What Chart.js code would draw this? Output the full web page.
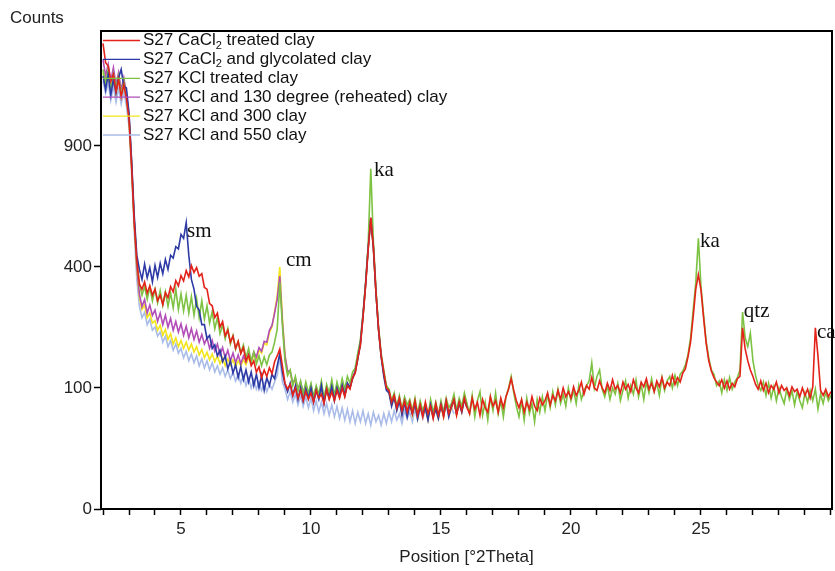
<!DOCTYPE html>
<html><head><meta charset="utf-8">
<script src="https://cdn.jsdelivr.net/npm/chart.js@4.4.0/dist/chart.umd.min.js"></script>
<style>html,body{margin:0;padding:0;background:#fff;}canvas{display:block;}</style>
</head><body>
<canvas id="c" width="835" height="571"></canvas>
<script>
// ---- data (counts), sampled every 0.1 °2Theta starting at 2.0 ----
const START = 2.0, STEP = 0.1;
const seriesLabels = [
  'S27 CaCl₂ treated clay',
  'S27 CaCl₂ and glycolated clay',
  'S27 KCl treated clay',
  'S27 KCl and 130 degree (reheated) clay',
  'S27 KCl and 300 clay',
  'S27 KCl and 550 clay'
];
const caTreated = [
1480,1360,1340,1250,1290,1190,1260,1160,1230,1150,
1040,800,560,420,345,330,352,318,340,312,
330,296,312,285,320,305,338,322,356,340,
372,355,388,368,405,382,398,370,378,335,
330,288,282,250,262,226,240,205,218,190,
204,176,192,165,178,150,162,140,150,128,
138,118,132,120,136,125,148,160,175,140,
108,98,106,88,100,84,96,80,94,82,
92,78,96,84,90,76,98,82,94,80,
96,84,100,86,104,98,118,126,156,182,
250,340,460,580,470,320,220,160,128,100,
96,78,88,70,84,66,80,64,78,62,
80,60,74,58,78,62,72,56,76,60,
74,58,80,62,72,82,60,78,66,84,
70,62,84,68,78,60,82,70,64,86,
72,80,64,84,70,86,98,116,96,80,
70,82,64,78,68,86,72,66,84,74,
80,92,74,88,80,96,82,100,86,94,
84,102,88,96,110,90,104,98,118,100,
96,112,100,92,108,96,114,98,104,92,
110,98,106,94,114,100,92,110,102,116,
98,108,94,112,102,118,100,110,104,122,
106,118,110,126,134,158,190,252,330,375,
328,250,188,150,130,118,110,104,114,100,
112,98,108,102,116,120,224,175,150,132,
120,106,98,112,96,108,92,104,98,110,
92,104,96,100,88,102,94,98,86,100,
88,98,84,102,224,160,96,88,98,86,
94];
const caGlycolated = [
1280,1200,1290,1170,1260,1180,1270,1320,1220,1210,
1070,830,590,440,392,360,410,365,398,352,
405,366,412,378,425,392,440,430,470,462,
515,500,560,440,360,330,280,270,232,232,
198,206,176,184,160,172,148,160,134,150,
126,142,118,138,114,132,110,128,104,124,
100,122,96,118,104,124,116,140,165,128,
106,94,108,88,104,82,100,80,98,84,
100,78,96,82,104,76,98,84,102,80,
100,86,104,88,108,100,116,128,154,186,
255,345,465,575,465,318,218,158,120,96,
92,72,86,66,80,60,78,58,74,62,
76,56,72,60,70,54,74,58,68,56,
74,60,78,58,72,80,62,76,64,82,
70];
const kclTreated = [
1320,1230,1320,1200,1290,1210,1280,1170,1250,1160,
1050,810,570,420,345,312,338,300,336,296,
330,290,326,284,322,280,318,276,330,272,
316,268,312,262,308,256,302,250,296,246,
282,236,266,222,250,210,232,198,222,186,
206,174,192,166,184,156,176,148,168,144,
160,140,158,142,162,168,190,220,350,230,
150,122,132,104,120,96,112,90,110,92,
108,86,104,90,112,84,106,92,114,88,
110,94,116,98,120,108,128,136,166,196,
260,350,480,790,490,330,225,165,132,104,
98,80,92,72,88,68,86,74,82,66,
84,62,80,66,76,58,82,64,78,60,
80,64,84,70,76,90,66,84,72,92,
76,62,88,58,80,94,60,78,54,86,
66,92,62,80,58,86,100,120,92,72,
58,80,54,84,62,76,52,82,64,86,
66,90,70,94,74,98,76,90,72,100,
80,96,76,104,82,96,104,112,146,100,
120,132,98,86,104,82,100,90,108,80,
96,112,84,104,90,114,86,106,82,110,
92,116,94,108,88,118,96,112,120,100,
122,104,124,130,142,162,200,270,350,500,
340,258,192,156,132,124,104,112,92,114,
96,118,98,110,118,132,265,200,180,211,
150,122,104,96,110,88,108,84,102,80,
100,86,76,98,82,96,74,94,80,70,
92,78,96,80,98,68,90,76,94,80,
88];
const kcl130 = [
1380,1280,1350,1250,1330,1230,1300,1200,1270,1180,
1060,820,570,400,315,280,300,262,284,256,
270,240,262,232,256,226,248,218,240,214,
234,206,228,200,222,196,216,190,208,186,
200,176,194,170,186,162,178,156,172,150,
166,146,162,144,160,148,164,150,168,158,
178,170,192,190,218,230,262,300,370,240,
160,130,130,108,116,98,110,92,106,88,
104,84,100,88,102,82,98,86,104,84,
102,88,106,90,108,102,118,130,156,190,
255,345,468,578,468,320,220,160,126,102,
94,76,88,70,84,64,82,66,78,62,
78,58,76,62,72,56,76,60,70,58,
76,60,80,64,70,82,62,78,66,84,
72];
const kcl300 = [
1300,1220,1290,1190,1270,1180,1260,1170,1240,1160,
1040,800,560,390,305,272,285,250,262,236,
242,218,230,206,220,196,210,186,200,180,
194,176,190,172,186,168,180,162,174,156,
168,152,164,148,160,144,156,140,154,142,
152,138,150,140,152,142,156,146,162,154,
172,166,188,184,212,226,266,310,400,250,
162,128,128,106,114,96,108,90,104,86,
102,82,98,86,100,80,96,84,102,82,
100,86,104,88,106,100,116,128,154,188,
252,342,462,572,462,316,216,158,124,100,
92,74,86,68,82,62,80,64,76,60,
76,56,74,60,70,54,74,58,68,56,
74,58,78,62,68,80,60,76,64,82,
70];
const kcl550 = [
1250,1180,1240,1140,1220,1130,1210,1120,1190,1110,
1000,770,530,360,280,250,264,232,246,218,
226,204,214,190,204,180,194,172,186,166,
176,156,170,150,164,146,160,140,154,136,
150,132,146,128,140,124,136,120,132,116,
128,112,124,108,122,104,118,100,114,98,
110,96,108,94,106,98,110,122,160,110,
98,82,94,78,90,74,88,72,86,70,
84,66,80,64,78,62,76,60,74,58,
72,56,70,54,68,52,66,50,64,52,
66,50,62,48,64,52,60,48,62,50,
64,52,66,54,62,50,66,56,64,52,
68,54,70,56,66,58,72,56,70,60,
72,58,74,60,70,62];
const seriesValues = [caTreated, caGlycolated, kclTreated, kcl130, kcl300, kcl550];
const seriesColors = ['#e3231a', '#2d3aa6', '#7dc243', '#b24db8', '#f2e51c', '#a9bce9'];

const xTickLabels = ['5', '10', '15', '20', '25'];
const yTickValues = [0, 100, 400, 900];

const peakLabels = ['sm', 'cm', 'ka', 'ka', 'qtz', 'ca'];
const peakPos = [5.23, 9.04, 12.42, 24.96, 26.65, 29.46];
const peakCounts = [505, 403, 757, 469, 252, 200];

// ---- square-root intensity scale ----
class SqrtScale extends Chart.LinearScale {
  getPixelForValue(value) {
    const a = Math.sqrt(Math.max(this.min, 0)), b = Math.sqrt(this.max);
    return this.getPixelForDecimal((Math.sqrt(Math.max(value, 0)) - a) / (b - a));
  }
  getValueForPixel(pixel) {
    const a = Math.sqrt(Math.max(this.min, 0)), b = Math.sqrt(this.max);
    const s = a + this.getDecimalForPixel(pixel) * (b - a);
    return s * s;
  }
}
SqrtScale.id = 'sqrt';
SqrtScale.defaults = Chart.LinearScale.defaults;
Chart.register(SqrtScale);

const FONT = '"Liberation Sans", Arial, sans-serif';

const datasets = seriesValues.map((vals, k) => ({
  label: seriesLabels[k],
  data: vals.map((v, i) => ({ x: +(START + i * STEP).toFixed(2), y: v })),
  borderColor: seriesColors[k],
  borderWidth: 1.6,
  pointRadius: 0,
  tension: 0,
  fill: false
}));

const decor = {
  id: 'decor',
  afterDatasetsDraw(chart) {
    const { ctx, chartArea: ca, scales } = chart;
    ctx.save();
    // peak annotations
    ctx.fillStyle = '#111';
    ctx.font = '21px "Liberation Serif", "Times New Roman", serif';
    ctx.textAlign = 'left';
    ctx.textBaseline = 'alphabetic';
    peakLabels.forEach((t, i) => {
      ctx.fillText(t, scales.x.getPixelForValue(peakPos[i]), scales.y.getPixelForValue(peakCounts[i]));
    });
    // legend
    ctx.textBaseline = 'middle';
    seriesLabels.forEach((lab, i) => {
      const y = ca.top + 9.5 + i * 18.9;
      ctx.strokeStyle = seriesColors[i];
      ctx.lineWidth = 1.3;
      ctx.beginPath();
      ctx.moveTo(ca.left + 2, y);
      ctx.lineTo(ca.left + 39, y);
      ctx.stroke();
      let x = ca.left + 42;
      const parts = lab.split('₂');
      ctx.fillStyle = '#111';
      parts.forEach((p, j) => {
        ctx.font = '17px ' + FONT;
        ctx.fillText(p, x, y);
        x += ctx.measureText(p).width;
        if (j < parts.length - 1) {
          ctx.font = '11px ' + FONT;
          ctx.fillText('2', x, y + 5);
          x += ctx.measureText('2').width;
        }
      });
    });
    // frame
    ctx.strokeStyle = '#000';
    ctx.lineWidth = 2;
    ctx.strokeRect(ca.left, ca.top, ca.right - ca.left, ca.bottom - ca.top);
    // titles
    ctx.fillStyle = '#222';
    ctx.font = '17px ' + FONT;
    ctx.textAlign = 'left';
    ctx.textBaseline = 'middle';
    ctx.fillText('Counts', 10, 18);
    ctx.textAlign = 'center';
    ctx.fillText('Position [°2Theta]', (ca.left + ca.right) / 2, 557);
    ctx.restore();
  }
};

new Chart(document.getElementById('c'), {
  type: 'line',
  data: { datasets },
  options: {
    responsive: false,
    animation: false,
    devicePixelRatio: 1,
    layout: { padding: { top: 31, right: 3, left: 0, bottom: 0 } },
    plugins: { legend: { display: false }, tooltip: { enabled: false } },
    scales: {
      x: {
        type: 'linear',
        min: 1.923,
        max: 30.04,
        afterFit(s) { s.height = 62; },
        border: { display: false },
        grid: { drawOnChartArea: false, tickLength: 6, tickColor: '#000', tickWidth: 1.5 },
        ticks: {
          stepSize: 1, autoSkip: false, maxRotation: 0, includeBounds: false, padding: 4,
          color: '#222', font: { family: FONT, size: 17 },
          callback(v) {
            const r = Math.round(v);
            return (Math.abs(v - r) < 1e-6 && xTickLabels.includes(String(r))) ? String(r) : '';
          }
        }
      },
      y: {
        type: 'sqrt',
        min: 0,
        max: 1560,
        afterFit(s) { s.width = 101; },
        afterBuildTicks(s) { s.ticks = yTickValues.map(v => ({ value: v })); },
        border: { display: false },
        grid: { drawOnChartArea: false, tickLength: 7, tickColor: '#000', tickWidth: 1.5 },
        ticks: { padding: 2, color: '#222', font: { family: FONT, size: 17 }, callback: v => String(v) }
      }
    }
  },
  plugins: [decor]
});
</script>
</body></html>
